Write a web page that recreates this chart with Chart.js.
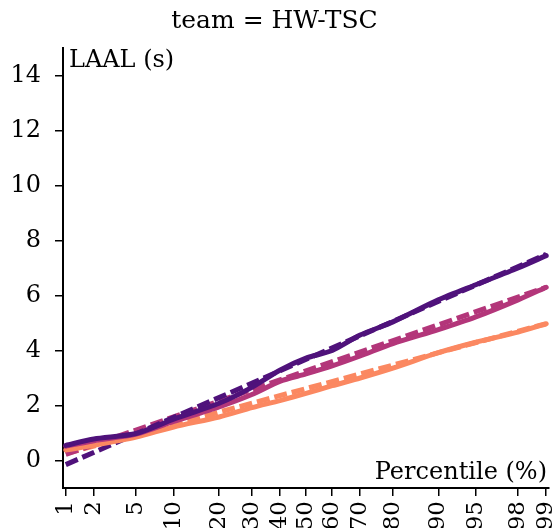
<!DOCTYPE html>
<html><head><meta charset="utf-8">
<script src="https://cdn.jsdelivr.net/npm/chart.js@4/dist/chart.umd.min.js"></script>
<style>html,body{margin:0;padding:0;background:#fff}#wrap{width:554px;height:528px}</style>
</head><body><div id="wrap"><canvas id="c" width="554" height="528"></canvas></div>
<script>
// ---- data ----
const chartTitle = 'team = HW-TSC';
const yAxisTitle = 'LAAL (s)';
const xAxisTitle = 'Percentile (%)';
const xTickPercents = [1, 2, 5, 10, 20, 30, 40, 50, 60, 70, 80, 90, 95, 98, 99];
const yTickValues = [0, 2, 4, 6, 8, 10, 12, 14];
const percentiles = [1, 2, 5, 10, 20, 30, 40, 50, 60, 70, 80, 90, 95, 98, 99];
const purpleValues = [0.55, 0.78, 0.98, 1.50, 2.08, 2.66, 3.28, 3.72, 4.00, 4.56, 5.04, 5.84, 6.39, 7.00, 7.45];
const magentaValues = [0.52, 0.72, 0.96, 1.42, 1.95, 2.40, 2.88, 3.15, 3.44, 3.80, 4.25, 4.76, 5.22, 5.84, 6.30];
const orangeValues = [0.38, 0.55, 0.85, 1.22, 1.58, 1.92, 2.18, 2.44, 2.72, 3.00, 3.36, 3.92, 4.30, 4.67, 4.97];
const fitPercentiles = [1, 99];
const purpleFit = [-0.15, 7.50];
const magentaFit = [0.22, 6.30];
const orangeFit = [0.25, 4.98];
const xRangePercent = [0.93, 99.07];
const yRange = [-1, 15];

// ---- probit (inverse normal CDF, Acklam) ----
function probit(p){
  const a=[-3.969683028665376e+01,2.209460984245205e+02,-2.759285104469687e+02,1.383577518672690e+02,-3.066479806614716e+01,2.506628277459239e+00];
  const b=[-5.447609879822406e+01,1.615858368580409e+02,-1.556989798598866e+02,6.680131188771972e+01,-1.328068155288572e+01];
  const c=[-7.784894002430293e-03,-3.223964580411365e-01,-2.400758277161838e+00,-2.549671010050044e+00,4.374664141464968e+00,2.938163982698783e+00];
  const d=[7.784695709041462e-03,3.224671290700398e-01,2.445134137142996e+00,3.754408661907416e+00];
  const pl=0.02425, ph=1-pl; let q,r;
  if(p<pl){q=Math.sqrt(-2*Math.log(p));return (((((c[0]*q+c[1])*q+c[2])*q+c[3])*q+c[4])*q+c[5])/((((d[0]*q+d[1])*q+d[2])*q+d[3])*q+1);}
  if(p>ph){q=Math.sqrt(-2*Math.log(1-p));return -(((((c[0]*q+c[1])*q+c[2])*q+c[3])*q+c[4])*q+c[5])/((((d[0]*q+d[1])*q+d[2])*q+d[3])*q+1);}
  q=p-0.5;r=q*q;return (((((a[0]*r+a[1])*r+a[2])*r+a[3])*r+a[4])*r+a[5])*q/(((((b[0]*r+b[1])*r+b[2])*r+b[3])*r+b[4])*r+1);
}
const pts = (ps, vs) => ps.map((p, i) => ({x: probit(p/100), y: vs[i]}));

const C_PURPLE = '#4f127b', C_MAGENTA = '#b3367a', C_ORANGE = '#fb8861';
const FONT = '"DejaVu Serif", serif';

const axisText = {
  id: 'axisText',
  afterDraw(chart){
    const {ctx, chartArea: a} = chart;
    ctx.save();
    ctx.fillStyle = '#000';
    ctx.font = '24px ' + FONT;
    ctx.textBaseline = 'alphabetic';
    ctx.textAlign = 'left';
    ctx.fillText(yAxisTitle, a.left + 6, a.top + 19);
    ctx.textAlign = 'right';
    ctx.fillText(xAxisTitle, a.right - 2, a.bottom - 9);
    ctx.restore();
  }
};

const solid = (label, vs, color) => ({label, data: pts(percentiles, vs), borderColor: color, borderWidth: 5, pointRadius: 0, tension: 0.25, fill: false, order: 0, borderCapStyle: 'round'});
const dashed = (label, vs, color) => ({label, data: pts(fitPercentiles, vs), borderColor: color, borderWidth: 5, borderDash: [13, 5], pointRadius: 0, fill: false, order: 1});

new Chart(document.getElementById('c'), {
  type: 'line',
  data: {datasets: [
    solid('purple', purpleValues, C_PURPLE),
    solid('magenta', magentaValues, C_MAGENTA),
    solid('orange', orangeValues, C_ORANGE),
    dashed('purple fit', purpleFit, C_PURPLE),
    dashed('magenta fit', magentaFit, C_MAGENTA),
    dashed('orange fit', orangeFit, C_ORANGE)
  ]},
  options: {
    responsive: false, animation: false,
    layout: {padding: {left: 0, right: 5, top: 0, bottom: 0}},
    plugins: {
      legend: {display: false}, tooltip: {enabled: false},
      title: {display: true, text: chartTitle, color: '#000', font: {family: FONT, size: 25, weight: 'normal', lineHeight: 1.2}, padding: {top: 6, bottom: 12}}
    },
    scales: {
      x: {
        type: 'linear', min: probit(xRangePercent[0]/100), max: probit(xRangePercent[1]/100),
        afterBuildTicks: s => { s.ticks = xTickPercents.map(p => ({value: probit(p/100)})); },
        afterFit: s => { s.height = 40; s.paddingLeft = 0; s.paddingRight = 0; },
        ticks: {autoSkip: false, minRotation: 90, maxRotation: 90, color: '#000', padding: 5,
          font: {family: FONT, size: 23},
          callback: (v, i) => String(xTickPercents[i])},
        grid: {display: true, drawOnChartArea: false, drawTicks: true, tickLength: 8, color: '#000', lineWidth: 1.5},
        border: {display: true, color: '#000', width: 2}
      },
      y: {
        type: 'linear', min: yRange[0], max: yRange[1],
        afterBuildTicks: s => { s.ticks = yTickValues.map(v => ({value: v})); },
        afterFit: s => { s.width = 63; s.paddingTop = 0; s.paddingBottom = 0; },
        ticks: {color: '#000', padding: 14, font: {family: FONT, size: 24}},
        grid: {display: true, drawOnChartArea: false, drawTicks: true, tickLength: 8, color: '#000', lineWidth: 1.5},
        border: {display: true, color: '#000', width: 2}
      }
    }
  },
  plugins: [axisText]
});
</script></body></html>
